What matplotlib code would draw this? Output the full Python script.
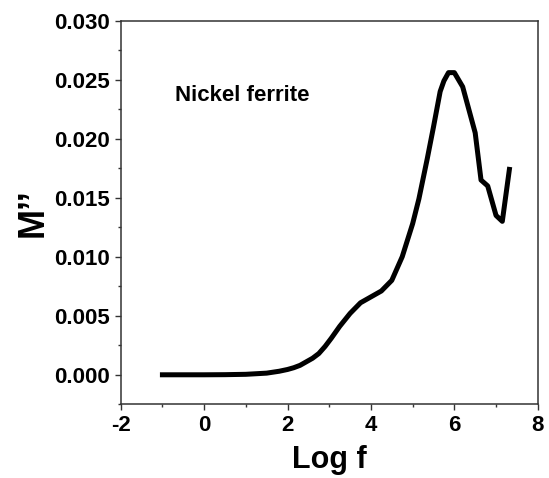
import matplotlib
matplotlib.use('Agg')
import matplotlib.pyplot as plt
from matplotlib.ticker import MultipleLocator, FormatStrFormatter

plt.rcParams['font.family'] = ['Liberation Sans', 'DejaVu Sans']
plt.rcParams['font.weight'] = 'bold'
plt.rcParams['axes.unicode_minus'] = False

# M'' vs log f, nickel ferrite
log_f = [-1.0, -0.5, 0.0, 0.5, 1.0, 1.5, 1.8, 2.0, 2.15, 2.3, 2.45, 2.6, 2.75,
         2.9, 3.05, 3.25, 3.5, 3.75, 4.0, 4.25, 4.5, 4.75, 5.0, 5.15, 5.35, 5.5,
         5.66, 5.75, 5.86, 6.0, 6.2, 6.5, 6.64, 6.8, 7.0, 7.15, 7.32]
m_dd = [0.0, 0.0, 0.0, 0.00001, 0.00004, 0.00014, 0.0003, 0.00045, 0.0006,
        0.0008, 0.0011, 0.0014, 0.0018, 0.0024, 0.0031, 0.0041, 0.0052, 0.0061,
        0.0066, 0.0071, 0.0080, 0.0100, 0.0128, 0.0149, 0.0183, 0.0210, 0.0240,
        0.0249, 0.0256, 0.0256, 0.0244, 0.0205, 0.0165, 0.0160, 0.0135, 0.0130,
        0.0174]

fig = plt.figure(figsize=(5.49, 4.78), dpi=100)
ax = fig.add_axes([0.2199, 0.1542, 0.7596, 0.8025])
ax.plot(log_f, m_dd, color='black', lw=3.6, solid_joinstyle='round')

ax.set_xlim(-2, 8)
ax.set_ylim(-0.0025, 0.030)
ax.xaxis.set_major_locator(MultipleLocator(2))
ax.xaxis.set_minor_locator(MultipleLocator(1))
ax.yaxis.set_major_locator(MultipleLocator(0.005))
ax.yaxis.set_minor_locator(MultipleLocator(0.0025))
ax.yaxis.set_major_formatter(FormatStrFormatter('%.3f'))
ax.tick_params(which='both', direction='out', labelsize=16, width=1, color='#333333')
ax.tick_params(which='major', length=4.5, pad=3)
ax.tick_params(which='minor', length=2.5)
for s in ax.spines.values():
    s.set_linewidth(1.1)
    s.set_color('#333333')

ax.set_xlabel('Log f', fontsize=22, fontweight='bold', labelpad=7)
ax.set_ylabel('M\u2019\u2019', fontsize=26, fontweight='bold', labelpad=3)
ax.text(-0.7, 0.0237, 'Nickel ferrite', fontsize=16, fontweight='bold', va='center')

fig.savefig('out.png', dpi=100)
